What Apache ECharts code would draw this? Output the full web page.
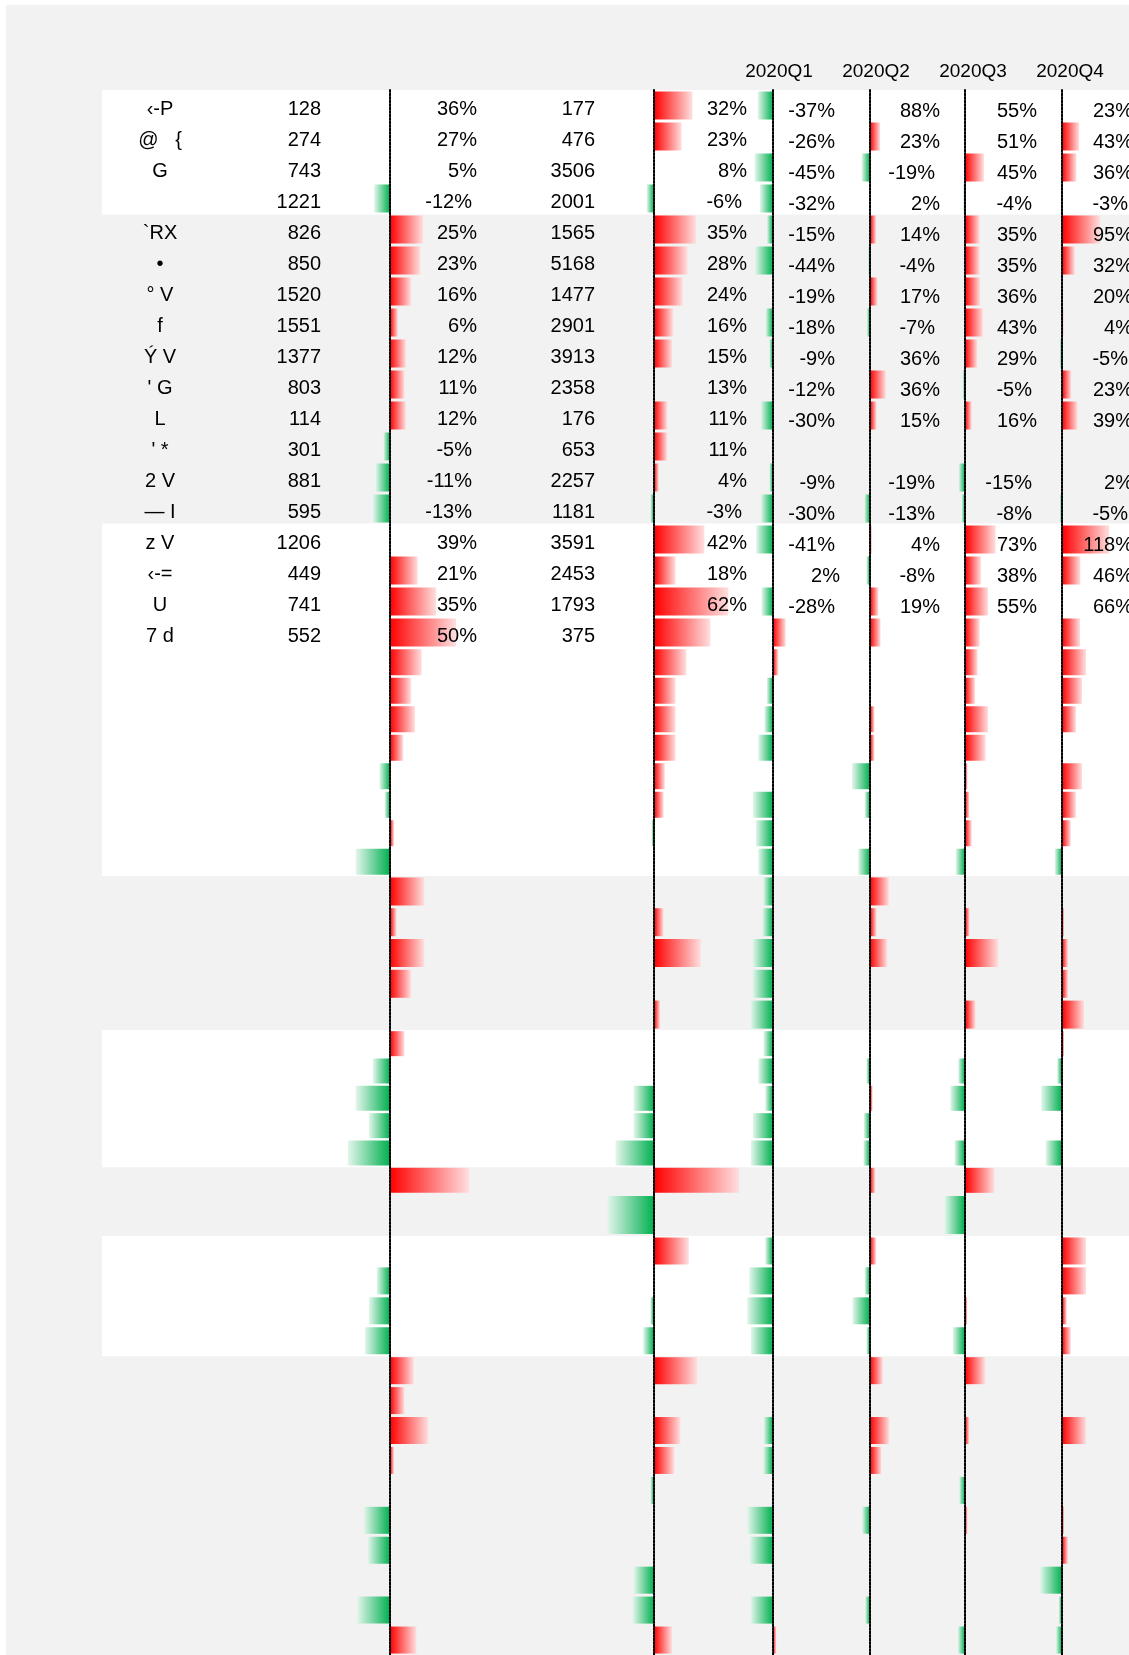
<!DOCTYPE html>
<html><head><meta charset="utf-8">
<script src="https://cdn.jsdelivr.net/npm/echarts/dist/echarts.min.js"></script>
<style>html,body{margin:0;padding:0;background:#fff;}#c{position:absolute;left:6px;top:5px;width:1123px;height:1650px;}</style>
</head><body><div id="c"></div>
<script>
// ---------------- data ----------------
const quarters = ['2020Q1','2020Q2','2020Q3','2020Q4'];
const names = ['‹-P','@   {','G','','`RX','•','° V','f','Ý V','\' G','L','\' *','2 V','— I','z V','‹-=','U','7 d'];
const count1 = ['128','274','743','1221','826','850','1520','1551','1377','803','114','301','881','595','1206','449','741','552'];
const pct1Text = ['36%','27%','5%','-12%','25%','23%','16%','6%','12%','11%','12%','-5%','-11%','-13%','39%','21%','35%','50%'];
const count2 = ['177','476','3506','2001','1565','5168','1477','2901','3913','2358','176','653','2257','1181','3591','2453','1793','375'];
const pct2Text = ['32%','23%','8%','-6%','35%','28%','24%','16%','15%','13%','11%','11%','4%','-3%','42%','18%','62%',''];
const q1Text = ['-37%','-26%','-45%','-32%','-15%','-44%','-19%','-18%','-9%','-12%','-30%','','-9%','-30%','-41%','2%','-28%',''];
const q2Text = ['88%','23%','-19%','2%','14%','-4%','17%','-7%','36%','36%','15%','','-19%','-13%','4%','-8%','19%',''];
const q3Text = ['55%','51%','45%','-4%','35%','35%','36%','43%','29%','-5%','16%','','-15%','-8%','73%','38%','55%',''];
const q4Text = ['23%','43%','36%','-3%','95%','32%','20%','4%','-5%','23%','39%','','2%','-5%','118%','46%','66%',''];

// data-bar values (percent), null where no bar is drawn
const bars1 = [null,null,null,-12,25,23,16,6,12,11,12,-5,-11,-13,null,21,35,50,
  24,16,19,10,-8,-4,3,-26,
  26,5,26,16,null,
  11,-13,-26,-16,-32,60,
  null,
  null,-10,-16,-19,18,11,29,3,null,-20,-17,null,-25,20];
const bars2 = [32,23,null,-6,35,28,24,16,15,null,11,11,4,-3,42,18,62,47,
  27,18,18,18,9,8,-2,null,
  null,8,39,null,5,
  null,null,-17,-17,-32,71,
  -39,
  29,null,-3,-9,36,null,22,17,-3,null,null,-17,-18,15];
const barsQ1 = [-37,null,-45,-32,-15,-44,null,-18,-9,null,-30,null,-9,-30,-41,null,-28,31,
  13,-15,-21,-36,null,-49,-42,-36,
  -24,-26,-50,-50,-55,
  -23,-36,-19,-49,-54,null,
  null,
  -19,-58,-63,-54,null,null,-23,-24,null,-63,-57,null,-55,8];
const barsQ2 = [null,23,-19,null,14,-4,17,-7,null,36,15,null,null,-13,4,-8,19,24,
  null,null,10,10,-41,-12,null,-27,
  43,15,39,null,null,
  null,-8,6,-14,-15,12,
  null,
  14,-12,-40,-8,29,null,44,26,null,-18,null,null,-11,null];
const barsQ3 = [null,null,45,-4,35,35,36,43,29,-5,16,null,-15,-8,73,38,55,35,
  30,24,55,49,6,10,16,-22,
  null,11,79,null,25,
  null,-16,-35,null,-25,70,
  -49,
  null,null,5,-29,48,null,10,null,-14,6,null,null,null,-17];
const barsQ4 = [null,43,36,-3,95,32,null,4,-5,23,39,null,2,-5,118,46,null,45,
  60,50,35,null,50,35,22,-18,
  null,5,15,15,55,
  5,-12,-52,-3,-41,null,
  null,
  60,60,12,22,null,null,60,null,null,5,15,-55,-8,-15];
// row band: 1 = white row, 0 = grey row
const whiteRows = [1,1,1,1,0,0,0,0,0,0,0,0,0,0,1,1,1,1,
  1,1,1,1,1,1,1,1,
  0,0,0,0,0,
  1,1,1,1,1,0,
  0,
  1,1,1,1,0,0,0,0,0,0,0,0,0,0];
const rowIds = whiteRows.map((_, i) => 'r' + (i + 1));

// ---------------- layout ----------------
const OX = 6, OY = 5;
const sections = [
  {from:0, to:18, top:90, bottom:648, bw:28},
  {from:18, to:26, top:648, bottom:876, bw:26},
  {from:26, to:31, top:876, bottom:1030, bw:28},
  {from:31, to:37, top:1030, bottom:1194, bw:25},
  {from:37, to:38, top:1194, bottom:1236, bw:38},
  {from:38, to:52, top:1236, bottom:1655, bw:27}
];
const barCols = [
  {data:bars1, x0:390, s:1.32, min:-40, max:70},
  {data:bars2, x0:654, s:1.2, min:-50, max:80},
  {data:barsQ1, x0:773, s:0.41, min:-80, max:60},
  {data:barsQ2, x0:870, s:0.44, min:-60, max:100},
  {data:barsQ3, x0:965, s:0.42, min:-60, max:100},
  {data:barsQ4, x0:1062, s:0.40, min:-70, max:130}
];
const textCols = [
  {data:names, x:160, align:'center', pad:8},
  {data:count1, x:321, pad:8},
  {data:pct1Text, x:477, pad:8},
  {data:count2, x:595, pad:8},
  {data:pct2Text, x:747, pad:8},
  {data:q1Text, x:840, pad:11},
  {data:q2Text, x:940, pad:11},
  {data:q3Text, x:1037, pad:11},
  {data:q4Text, x:1133, pad:11}
];
const FONT = '"Liberation Sans", Arial, sans-serif';

const redGrad = new echarts.graphic.LinearGradient(0,0,1,0,[{offset:0,color:'#ff0000'},{offset:1,color:'#ffdfdf'}]);
const greenGrad = new echarts.graphic.LinearGradient(0,0,1,0,[{offset:0,color:'#e4f6ec'},{offset:1,color:'#00b050'}]);

const grid = [], xAxis = [], yAxis = [], series = [];
function addGrid(g, xa, ya) {
  const i = grid.length;
  grid.push(Object.assign({containLabel:false}, g));
  xAxis.push(Object.assign({gridIndex:i}, xa));
  yAxis.push(Object.assign({gridIndex:i}, ya));
  return i;
}

sections.forEach(sec => {
  const cats = rowIds.slice(sec.from, sec.to);
  const top = sec.top - OY, height = sec.bottom - sec.top;
  // background white rows
  const bi = addGrid({left:102 - OX, right:0, top, height},
    {type:'value', min:0, max:1, show:false},
    {type:'category', inverse:true, data:cats, show:false});
  const pitch = height / cats.length;
  series.push({type:'bar', xAxisIndex:bi, yAxisIndex:bi, silent:true, z:0,
    barWidth: pitch + 1.2, data: whiteRows.slice(sec.from, sec.to),
    itemStyle:{color:'#ffffff'}});
  // data bar columns
  barCols.forEach(c => {
    const gi = addGrid({left:c.x0 - OX + c.s * c.min, width:c.s * (c.max - c.min), top, height},
      {type:'value', min:c.min, max:c.max, show:false},
      {type:'category', inverse:true, data:cats, z:3,
       axisLine:{show:true, onZero:true, lineStyle:{color:'#000', width:2, type:[2,1.5]}},
       axisTick:{show:false}, axisLabel:{show:false}, splitLine:{show:false}});
    series.push({type:'bar', xAxisIndex:gi, yAxisIndex:gi, silent:true, z:2,
      barWidth: sec.bw, data: c.data.slice(sec.from, sec.to),
      itemStyle:{color: p => (p.value >= 0 ? redGrad : greenGrad)}});
  });
});

// text columns (first section)
const s0 = sections[0];
textCols.forEach(t => {
  const base = {fontSize:20, fontFamily:FONT, color:'#000'};
  addGrid({left:t.x - OX, width:1, top:s0.top - OY, height:s0.bottom - s0.top},
    {type:'value', show:false},
    {type:'category', inverse:true, data:t.data, z:6,
     axisLine:{show:false}, axisTick:{show:false}, splitLine:{show:false},
     axisLabel:{show:true, interval:0, margin:0, align:t.align || 'right',
       fontSize:20, fontFamily:FONT, color:'#000',
       formatter: v => (v.charAt(0) === '-' ? '{n|' + v + '}' : '{p|' + v + '}'),
       rich:{
         n: Object.assign({padding:[t.pad,5,0,0]}, base),
         p: Object.assign({padding:[t.pad,0,0,0]}, base)
       }}});
});

// quarter headers
addGrid({left:730.5 - OX, width:388, top:71 - OY, height:1},
  {type:'category', data:quarters, position:'bottom', z:6,
   axisLine:{show:false}, axisTick:{show:false},
   axisLabel:{interval:0, margin:0, verticalAlign:'middle', fontSize:19, fontFamily:FONT, color:'#000'}},
  {type:'value', show:false});

const chart = echarts.init(document.getElementById('c'), null, {renderer:'canvas'});
chart.setOption({
  backgroundColor:'#f2f2f2',
  animation:false,
  grid, xAxis, yAxis, series
});
</script></body></html>
